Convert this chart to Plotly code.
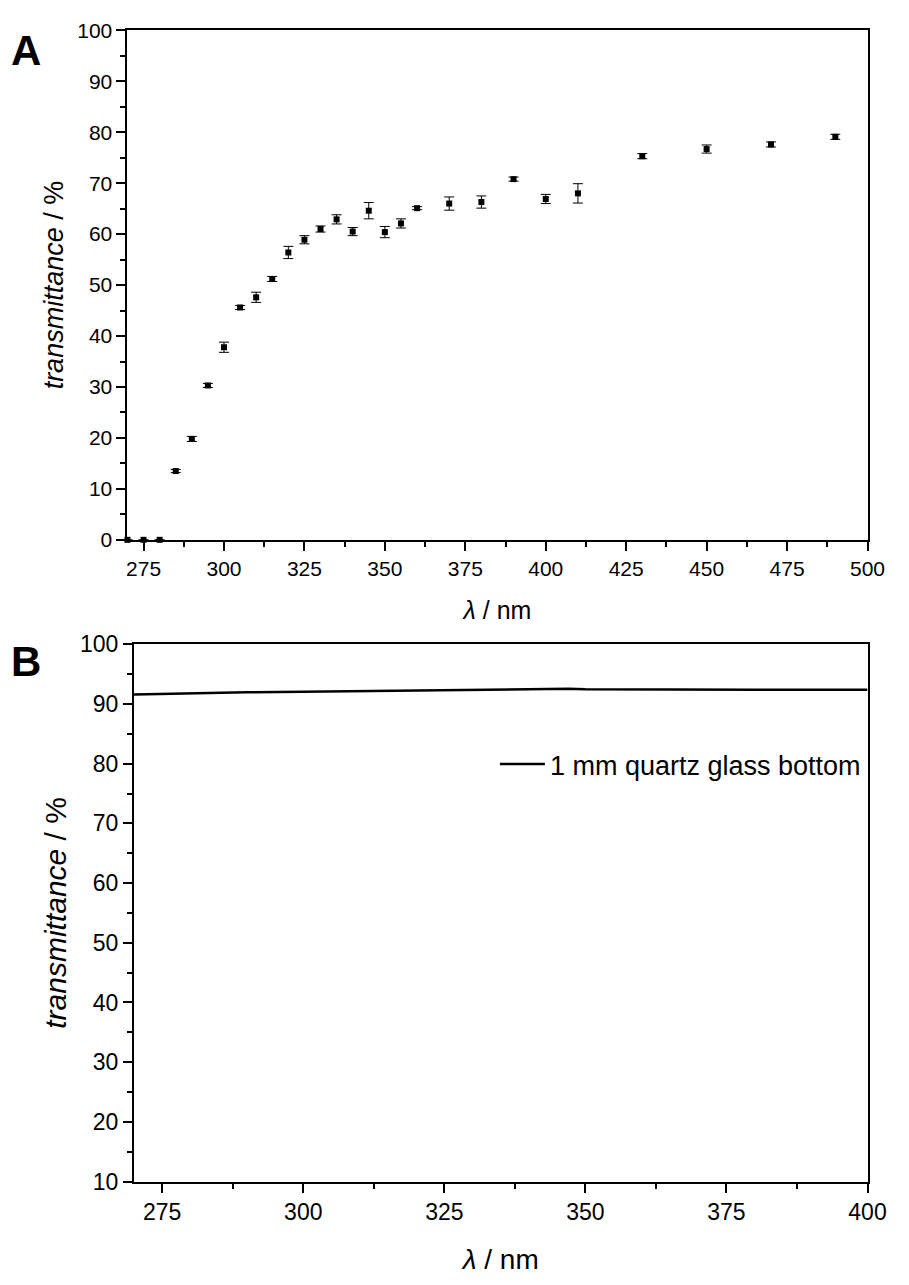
import plotly.graph_objects as go

# ---------------- data: panel A ----------------
wavelength_a = [270, 275, 280, 285, 290, 295, 300, 305, 310, 315, 320, 325, 330, 335,
                340, 345, 350, 355, 360, 370, 380, 390, 400, 410, 430, 450, 470, 490]
transmittance_a = [0.0, 0.0, 0.0, 13.5, 19.8, 30.3, 37.8, 45.6, 47.6, 51.2, 56.4, 58.9,
                   61.0, 62.9, 60.5, 64.6, 60.4, 62.1, 65.1, 66.0, 66.3, 70.8, 66.9,
                   68.0, 75.3, 76.7, 77.6, 79.1]
error_a = [0.0, 0.0, 0.0, 0.3, 0.5, 0.4, 1.0, 0.4, 1.0, 0.5, 1.2, 0.8, 0.6, 0.9,
           0.8, 1.6, 1.1, 0.9, 0.3, 1.3, 1.2, 0.4, 0.9, 1.9, 0.5, 0.8, 0.5, 0.5]

# ---------------- data: panel B ----------------
wavelength_b = [270, 280, 290, 300, 310, 320, 330, 340, 347, 350, 360, 370, 380, 390, 400]
transmittance_b = [91.6, 91.8, 91.95, 92.05, 92.15, 92.2, 92.3, 92.4, 92.55, 92.45,
                   92.4, 92.4, 92.4, 92.4, 92.4]
legend_b = "1 mm quartz glass bottom"

ticks_x_a = [275, 300, 325, 350, 375, 400, 425, 450, 475, 500]
ticks_y_a = list(range(0, 101, 10))
ticks_x_b = [275, 300, 325, 350, 375, 400]
ticks_y_b = list(range(10, 101, 10))

FONT = "Liberation Sans, Arial, sans-serif"
W, H = 909, 1285

fig = go.Figure()

fig.add_trace(go.Scatter(
    x=wavelength_a, y=transmittance_a, mode="markers",
    marker=dict(symbol="square", size=6, color="black"),
    error_y=dict(type="data", array=error_a, visible=True, color="black",
                 thickness=1, width=5),
    cliponaxis=False, showlegend=False, xaxis="x", yaxis="y"))

fig.add_trace(go.Scatter(
    x=wavelength_b, y=transmittance_b, mode="lines", name=legend_b,
    line=dict(color="black", width=2.5), showlegend=True,
    xaxis="x2", yaxis="y2"))

def xdom(l, r):
    return [l / W, r / W]

def ydom(top, bottom):
    return [1 - bottom / H, 1 - top / H]

common = dict(showline=True, linecolor="black", linewidth=2, mirror=True,
              ticks="outside", ticklen=9, tickwidth=1.5, tickcolor="black",
              showgrid=False, zeroline=False, color="black")

fig.update_layout(
    width=W, height=H, margin=dict(l=0, r=0, t=0, b=0),
    paper_bgcolor="white", plot_bgcolor="white",
    font=dict(family=FONT, color="black"),
    xaxis=dict(domain=xdom(129.3, 886), range=[270, 500], tickvals=ticks_x_a,
               tickfont=dict(size=21), anchor="y",
               minor=dict(tick0=275, dtick=12.5, ticks="outside", ticklen=5,
                          tickwidth=1.5, tickcolor="black"),
               title=dict(text="<i>λ</i> / nm", font=dict(size=25), standoff=22),
               **common),
    yaxis=dict(domain=ydom(17.7, 537.7), range=[0, 100], tickvals=ticks_y_a,
               tickfont=dict(size=21), anchor="x",
               minor=dict(tick0=0, dtick=5, ticks="outside", ticklen=5,
                          tickwidth=1.5, tickcolor="black"),
               title=dict(text="<i>transmittance</i> / %", font=dict(size=27), standoff=6),
               **common),
    xaxis2=dict(domain=xdom(136, 886), range=[270, 400], tickvals=ticks_x_b,
                tickfont=dict(size=23), anchor="y2",
                minor=dict(tick0=275, dtick=12.5, ticks="outside", ticklen=5,
                           tickwidth=1.5, tickcolor="black"),
                title=dict(text="<i>λ</i> / nm", font=dict(size=28), standoff=25),
                **common),
    yaxis2=dict(domain=ydom(644.3, 1192.7), range=[10, 100], tickvals=ticks_y_b,
                tickfont=dict(size=23), anchor="x2",
                minor=dict(tick0=10, dtick=5, ticks="outside", ticklen=5,
                           tickwidth=1.5, tickcolor="black"),
                title=dict(text="<i>transmittance</i> / %", font=dict(size=30), standoff=5),
                **common),
    legend=dict(x=505 / W, y=1 - 767 / H, xanchor="left", yanchor="middle",
                bgcolor="rgba(0,0,0,0)", font=dict(size=27, family=FONT),
                itemwidth=45),
    annotations=[
        dict(text="<b>A</b>", x=26 / W, y=1 - 38 / H, xref="paper", yref="paper",
             showarrow=False, font=dict(size=42, family=FONT), xanchor="center",
             yanchor="middle"),
        dict(text="<b>B</b>", x=26 / W, y=1 - 662 / H, xref="paper", yref="paper",
             showarrow=False, font=dict(size=42, family=FONT), xanchor="center",
             yanchor="middle"),
    ],
)

fig.write_html("out.html")
